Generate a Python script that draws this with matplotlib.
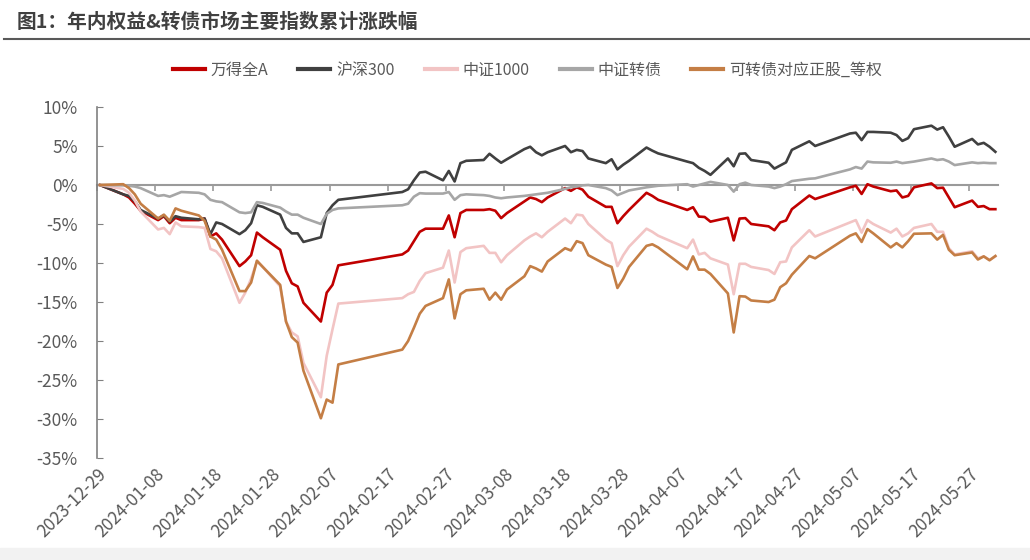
import matplotlib
matplotlib.use("Agg")
import matplotlib.pyplot as plt
import matplotlib.dates as mdates
from matplotlib.lines import Line2D
from matplotlib.patches import Rectangle
import pandas as pd

plt.rcParams['font.family'] = ['Noto Sans CJK SC', 'DejaVu Sans']

TITLE = "图1：年内权益&转债市场主要指数累计涨跌幅"

# trading days, 2023-12-29 is the base day
dates = ["2023-12-29",
         "2024-01-02", "2024-01-03", "2024-01-04", "2024-01-05", "2024-01-08", "2024-01-09",
         "2024-01-10", "2024-01-11", "2024-01-12", "2024-01-15", "2024-01-16", "2024-01-17",
         "2024-01-18", "2024-01-19", "2024-01-22", "2024-01-23", "2024-01-24", "2024-01-25",
         "2024-01-26", "2024-01-29", "2024-01-30", "2024-01-31",
         "2024-02-01", "2024-02-02", "2024-02-05", "2024-02-06", "2024-02-07", "2024-02-08",
         "2024-02-19", "2024-02-20", "2024-02-21", "2024-02-22", "2024-02-23", "2024-02-26",
         "2024-02-27", "2024-02-28", "2024-02-29",
         "2024-03-01", "2024-03-04", "2024-03-05", "2024-03-06", "2024-03-07", "2024-03-08",
         "2024-03-11", "2024-03-12", "2024-03-13", "2024-03-14", "2024-03-15", "2024-03-18",
         "2024-03-19", "2024-03-20", "2024-03-21", "2024-03-22", "2024-03-25", "2024-03-26",
         "2024-03-27", "2024-03-28", "2024-03-29",
         "2024-04-01", "2024-04-02", "2024-04-03", "2024-04-08", "2024-04-09", "2024-04-10",
         "2024-04-11", "2024-04-12", "2024-04-15", "2024-04-16", "2024-04-17", "2024-04-18",
         "2024-04-19", "2024-04-22", "2024-04-23", "2024-04-24", "2024-04-25", "2024-04-26",
         "2024-04-29", "2024-04-30",
         "2024-05-06", "2024-05-07", "2024-05-08", "2024-05-09", "2024-05-10", "2024-05-13",
         "2024-05-14", "2024-05-15", "2024-05-16", "2024-05-17", "2024-05-20", "2024-05-21",
         "2024-05-22", "2024-05-23", "2024-05-24", "2024-05-27", "2024-05-28", "2024-05-29",
         "2024-05-30", "2024-05-31"]

# cumulative change, %
wind_a = [0, -1.2, -1.6, -2.4, -3.3, -4.5, -4.0, -4.9, -4.2, -4.5,
          -4.5, -4.3, -6.6, -6.2, -7.0, -10.4, -9.8, -9.0, -6.1, -6.7,
          -8.3, -11.0, -12.6, -13.0, -15.1, -17.5, -13.8, -12.8, -10.3, -8.9,
          -8.4, -7.2, -6.0, -5.6, -5.6, -3.9, -6.7, -3.6, -3.2, -3.2,
          -3.1, -3.3, -4.25, -3.6, -2.1, -1.6, -1.8, -2.2, -1.6, -0.4,
          -0.75, -0.3, -0.6, -1.5, -2.8, -2.8, -4.9, -4.0, -3.2, -1.0,
          -1.4, -1.9, -3.2, -2.85, -4.05, -4.1, -4.7, -4.2, -7.1, -4.3,
          -4.25, -5.0, -5.3, -5.8, -4.8, -4.55, -3.1, -1.35, -1.8, -0.3,
          -0.1, -1.15, 0.1, -0.2, -0.8, -0.7, -1.6, -1.4, -0.3, 0.2,
          -0.4, -0.35, -1.6, -2.85, -2.0, -2.8, -2.7, -3.1, -3.1]

hs300 = [0, -1.2, -1.4, -2.1, -3.2, -4.3, -3.9, -4.7, -4.0, -4.2,
         -4.4, -4.3, -6.3, -4.8, -5.0, -6.3, -5.8, -4.9, -2.6, -2.8,
         -3.8, -5.5, -6.2, -6.2, -7.3, -6.7, -3.6, -2.6, -1.9, -0.9,
         -0.55, 0.6, 1.6, 1.7, 0.6, 1.8, 0.45, 2.8, 3.1, 3.2,
         4.0, 3.4, 2.85, 3.3, 4.6, 4.9, 4.2, 3.8, 4.2, 5.0,
         4.2, 4.5, 4.35, 3.4, 2.8, 3.3, 2.0, 2.6, 3.1, 4.8,
         4.4, 4.05, 3.0, 2.8, 2.2, 1.8, 1.3, 3.4, 2.4, 4.0,
         4.05, 3.2, 2.85, 2.1, 2.5, 2.9, 4.5, 5.6, 5.0, 6.6,
         6.7, 5.75, 6.8, 6.8, 6.7, 6.4, 5.65, 6.0, 7.15, 7.6,
         7.1, 7.4, 6.2, 4.9, 5.9, 5.2, 5.4, 4.9, 4.25]

csi1000 = [0, -0.5, -1.0, -2.0, -3.4, -5.7, -5.5, -6.3, -4.8, -5.3,
           -5.4, -5.5, -8.2, -8.5, -9.4, -15.1, -13.8, -12.0, -9.8, -10.5,
           -13.0, -17.5, -18.9, -19.4, -22.8, -27.2, -21.9, -18.5, -15.2, -14.5,
           -14.0, -13.7, -12.3, -11.3, -10.6, -8.4, -12.5, -8.6, -8.1, -7.8,
           -8.7, -8.7, -9.9, -9.0, -7.1, -6.6, -6.2, -6.7, -6.0, -4.3,
           -4.9, -3.8, -3.9, -5.0, -7.0, -7.45, -10.4, -9.0, -7.9, -5.6,
           -6.0, -6.5, -8.1, -7.0, -8.9, -8.7, -9.4, -10.2, -14.0, -10.1,
           -10.1, -10.5, -10.9, -11.4, -9.9, -9.8, -8.0, -5.8, -6.6, -4.8,
           -4.5, -6.1, -4.5, -5.0, -6.1, -5.6, -6.6, -6.2, -5.5, -5.0,
           -6.0, -6.0, -8.1, -8.9, -8.5, -9.4, -9.15, -9.6, -9.15]

cb_index = [0, -0.05, -0.1, -0.2, -0.4, -1.4, -1.3, -1.5, -1.2, -0.9,
            -1.0, -1.2, -1.9, -2.1, -2.2, -3.5, -3.6, -3.5, -2.2, -2.3,
            -2.9, -3.4, -3.8, -3.8, -4.2, -5.0, -3.7, -3.2, -3.0, -2.6,
            -2.4, -1.5, -1.05, -1.1, -1.1, -0.9, -1.9, -1.3, -1.2, -1.3,
            -1.4, -1.6, -1.7, -1.6, -1.4, -1.3, -1.2, -1.1, -1.0, -0.5,
            -0.3, -0.2, -0.05, 0.0, -0.4, -0.7, -1.3, -1.0, -0.7, -0.3,
            -0.2, -0.1, 0.1, -0.2, 0.0, 0.2, 0.4, 0.0, -0.85, 0.1,
            0.3, 0.0, -0.2, -0.4, -0.2, 0.1, 0.5, 0.8, 0.85, 2.0,
            2.3, 2.1, 3.0, 2.9, 2.85, 3.0, 2.8, 2.9, 3.0, 3.4,
            3.2, 3.3, 3.0, 2.55, 2.9, 2.8, 2.85, 2.8, 2.8]

cb_stock = [0, 0.1, -0.4, -1.2, -2.4, -4.3, -3.8, -4.6, -3.0, -3.3,
            -3.9, -4.6, -6.6, -7.0, -8.3, -13.6, -13.6, -12.5, -9.7, -10.5,
            -12.8, -17.5, -19.5, -20.2, -23.8, -29.9, -27.5, -27.9, -23.0, -21.1,
            -20.0, -18.3, -16.5, -15.5, -14.5, -12.1, -17.1, -14.0, -13.5, -13.3,
            -14.7, -13.8, -14.7, -13.4, -11.7, -10.4, -10.7, -11.1, -9.8, -8.1,
            -8.4, -7.2, -7.45, -9.0, -10.2, -10.5, -13.2, -12.0, -10.5, -7.8,
            -7.6, -8.0, -10.8, -9.15, -10.85, -10.85, -11.4, -13.9, -18.9, -14.25,
            -14.3, -14.8, -15.0, -14.7, -13.1, -12.6, -11.5, -9.1, -9.4, -6.5,
            -6.2, -7.3, -5.65, -6.2, -8.0, -7.45, -8.0, -7.2, -6.25, -6.2,
            -7.0, -6.4, -8.3, -9.0, -8.65, -9.55, -9.15, -9.65, -9.1]

labels = ["万得全A", "沪深300", "中证1000", "中证转债", "可转债对应正股_等权"]
colors = ["#C00000", "#404040", "#F2C4C4", "#A6A6A6", "#C47E45"]
series = [wind_a, hs300, csi1000, cb_index, cb_stock]

y_ticks = [10, 5, 0, -5, -10, -15, -20, -25, -30, -35]
x_tick_dates = pd.date_range("2023-12-29", "2024-05-27", freq="10D")

# points sit in the middle of each day slot, like the excel date axis
x = pd.to_datetime(dates) + pd.Timedelta(hours=12)

fig = plt.figure(figsize=(10.3, 5.6), dpi=100)
ax = fig.add_axes([0.0942, 0.182, 0.875, 0.627])

for vals, lab, col in zip(series, labels, colors):
    ax.plot(x, vals, color=col, lw=1.9, label=lab, solid_joinstyle="round")

ax.set_xlim(pd.Timestamp("2023-12-29"), pd.Timestamp("2024-06-01"))
ax.set_ylim(-35, 10)

ax.set_yticks(y_ticks)
ax.set_yticklabels([f"{v}%" for v in y_ticks])
ax.tick_params(axis="y", direction="in", length=4, color="#808080",
               labelsize=12.5, labelcolor="#595959", pad=14)

# x axis line at 0 with tick marks, labels at the bottom
for s in ["top", "right"]:
    ax.spines[s].set_visible(False)
ax.spines["left"].set_color("#808080")
ax.spines["left"].set_linewidth(1.2)
ax.spines["bottom"].set_position(("data", 0))
ax.spines["bottom"].set_color("#9a9a9a")
ax.spines["bottom"].set_linewidth(1.5)
ax.spines["bottom"].set_zorder(1)
ax.set_xticks(x_tick_dates)
ax.tick_params(axis="x", direction="out", length=4, color="#9a9a9a",
               width=1.2, labelbottom=False)

sec = ax.secondary_xaxis("bottom")
sec.set_xticks(x_tick_dates)
sec.xaxis.set_major_formatter(mdates.DateFormatter("%Y-%m-%d"))
sec.tick_params(length=0, labelsize=12.5, labelcolor="#595959", pad=5)
sec.spines["bottom"].set_visible(False)
for t in sec.get_xticklabels():
    t.set_rotation(45)
    t.set_ha("right")
    t.set_va("top")
    t.set_rotation_mode("anchor")

leg = fig.legend(loc="center", bbox_to_anchor=(0.512, 0.875), ncol=5, frameon=False,
                 fontsize=11.5, handlelength=2.0, columnspacing=1.9, handletextpad=0.35)
for h in leg.get_lines():
    h.set_linewidth(3)
for t in leg.get_texts():
    t.set_color("#595959")

fig.text(0.016, 0.961, TITLE, fontsize=14.2, fontweight="bold", color="#404040",
         va="center", ha="left")
fig.add_artist(Line2D([0.004, 1.0], [0.9295, 0.9295], color="#595959", lw=1.5))
fig.add_artist(Rectangle((0, 0), 1, 0.022, transform=fig.transFigure,
                         color="#F2F2F2", zorder=-1))

fig.savefig("out.png", dpi=100)
